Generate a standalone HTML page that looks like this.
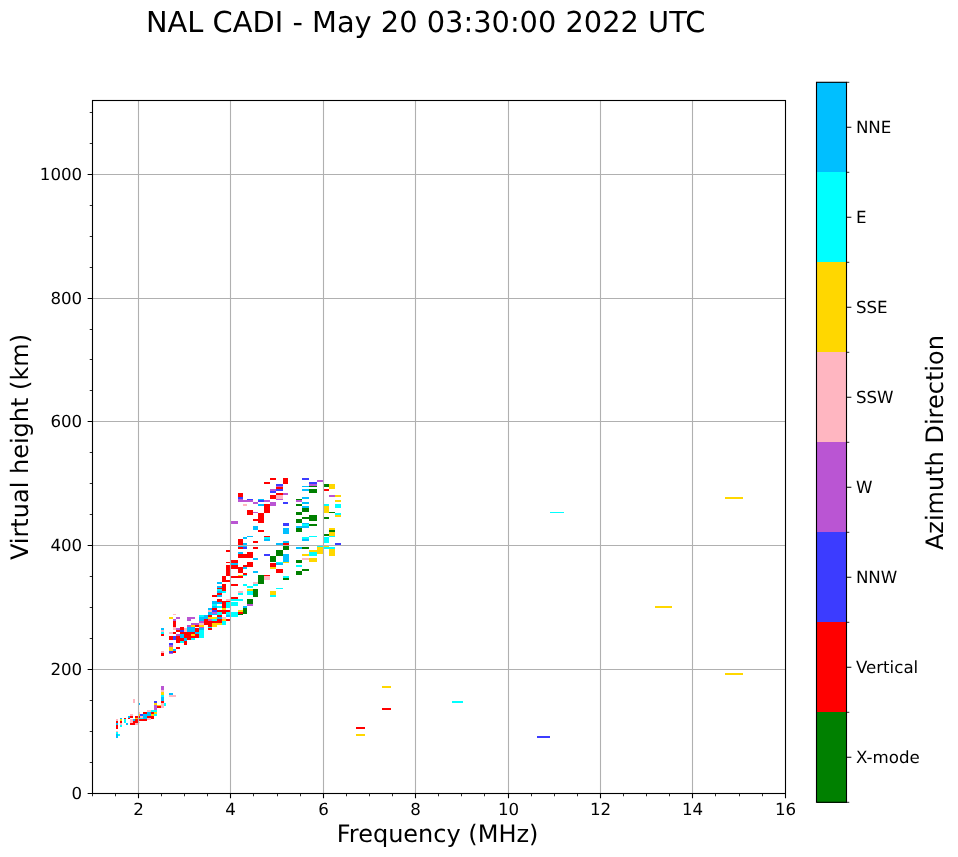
<!DOCTYPE html>
<html lang="en"><head><meta charset="utf-8"><title>NAL CADI ionogram</title>
<style>html,body{margin:0;padding:0;background:#fff}svg{display:block;will-change:transform}text{text-rendering:geometricPrecision;filter:grayscale(1)}</style></head>
<body>
<svg width="958" height="857" viewBox="0 0 958 857" font-family='"DejaVu Sans", "Liberation Sans", sans-serif' fill="#000">
<rect width="958" height="857" fill="#fff"/>
<g shape-rendering="crispEdges">
<rect x="115.97" y="718.90" width="2.10" height="2.01" fill="#ffb6c1"/>
<rect x="115.97" y="720.91" width="2.10" height="2.05" fill="#ff0000"/>
<rect x="115.97" y="722.96" width="2.10" height="2.01" fill="#00bfff"/>
<rect x="115.97" y="724.97" width="2.10" height="3.97" fill="#ff0000"/>
<rect x="115.97" y="730.90" width="2.10" height="1.07" fill="#ffb6c1"/>
<rect x="115.97" y="731.97" width="2.10" height="2.01" fill="#00ffff"/>
<rect x="115.97" y="733.98" width="2.10" height="3.92" fill="#00bfff"/>
<rect x="118.07" y="733.98" width="1.96" height="1.96" fill="#00ffff"/>
<rect x="120.03" y="717.97" width="2.01" height="0.93" fill="#00bfff"/>
<rect x="120.03" y="718.90" width="2.01" height="2.01" fill="#ffd700"/>
<rect x="120.03" y="720.91" width="2.01" height="2.05" fill="#ff0000"/>
<rect x="120.03" y="722.96" width="2.01" height="2.01" fill="#ffb6c1"/>
<rect x="120.03" y="724.97" width="2.01" height="2.01" fill="#00ffff"/>
<rect x="124.04" y="717.97" width="1.96" height="0.93" fill="#ff0000"/>
<rect x="124.04" y="718.90" width="1.96" height="4.06" fill="#00ffff"/>
<rect x="126.00" y="722.96" width="2.10" height="2.01" fill="#00bfff"/>
<rect x="128.10" y="715.96" width="2.01" height="2.01" fill="#00bfff"/>
<rect x="128.10" y="717.97" width="2.01" height="0.93" fill="#ff0000"/>
<rect x="130.11" y="714.00" width="2.89" height="1.96" fill="#ffb6c1"/>
<rect x="130.11" y="715.96" width="2.89" height="2.01" fill="#ff0000"/>
<rect x="130.11" y="718.90" width="2.89" height="4.06" fill="#ffb6c1"/>
<rect x="130.11" y="722.96" width="4.85" height="2.01" fill="#ff0000"/>
<rect x="133.00" y="718.90" width="1.96" height="2.01" fill="#00bfff"/>
<rect x="133.00" y="720.91" width="1.96" height="2.05" fill="#ff0000"/>
<rect x="134.96" y="715.96" width="2.94" height="2.01" fill="#ff0000"/>
<rect x="134.96" y="717.97" width="2.94" height="0.93" fill="#ffd700"/>
<rect x="134.96" y="718.90" width="2.94" height="4.06" fill="#ff0000"/>
<rect x="134.96" y="722.96" width="2.94" height="2.01" fill="#ffb6c1"/>
<rect x="133.24" y="700.00" width="1.73" height="2.71" fill="#ffb6c1"/>
<rect x="138.98" y="702.89" width="1.03" height="2.01" fill="#00bfff"/>
<rect x="138.98" y="712.04" width="1.03" height="1.96" fill="#ffb6c1"/>
<rect x="138.98" y="714.00" width="1.03" height="1.96" fill="#ffd700"/>
<rect x="138.98" y="715.96" width="1.03" height="2.01" fill="#ff0000"/>
<rect x="140.00" y="714.00" width="3.03" height="1.96" fill="#3c3cff"/>
<rect x="140.00" y="715.96" width="3.03" height="2.01" fill="#ffb6c1"/>
<rect x="138.98" y="717.97" width="4.06" height="0.93" fill="#00ffff"/>
<rect x="138.98" y="718.90" width="8.03" height="2.01" fill="#ff0000"/>
<rect x="138.98" y="721.94" width="1.03" height="1.03" fill="#ffb6c1"/>
<rect x="161.00" y="685.97" width="3.03" height="4.06" fill="#ba55d3"/>
<rect x="161.00" y="690.04" width="3.03" height="2.01" fill="#ffb6c1"/>
<rect x="161.00" y="692.04" width="3.03" height="2.89" fill="#ffd700"/>
<rect x="161.00" y="694.94" width="3.03" height="2.10" fill="#00ffff"/>
<rect x="161.00" y="697.04" width="3.03" height="3.97" fill="#00bfff"/>
<rect x="161.00" y="701.00" width="3.03" height="1.96" fill="#ff0000"/>
<rect x="161.00" y="702.96" width="3.03" height="4.95" fill="#ffb6c1"/>
<rect x="164.04" y="702.96" width="2.01" height="2.94" fill="#00ffff"/>
<rect x="168.94" y="692.98" width="4.11" height="1.96" fill="#00bfff"/>
<rect x="168.94" y="694.94" width="7.00" height="1.96" fill="#ffb6c1"/>
<rect x="154.00" y="701.00" width="3.03" height="1.96" fill="#3c3cff"/>
<rect x="154.00" y="702.96" width="3.03" height="2.01" fill="#ffd700"/>
<rect x="154.00" y="704.97" width="3.03" height="4.90" fill="#ba55d3"/>
<rect x="157.04" y="704.97" width="3.97" height="0.93" fill="#ffd700"/>
<rect x="157.04" y="705.90" width="3.97" height="2.01" fill="#ff0000"/>
<rect x="147.00" y="709.87" width="3.97" height="1.96" fill="#ffb6c1"/>
<rect x="150.97" y="709.87" width="6.07" height="1.96" fill="#00ffff"/>
<rect x="143.03" y="711.83" width="3.97" height="2.01" fill="#ff0000"/>
<rect x="147.00" y="711.83" width="3.97" height="4.11" fill="#00bfff"/>
<rect x="150.97" y="711.83" width="3.03" height="2.01" fill="#ff0000"/>
<rect x="154.00" y="711.83" width="3.03" height="2.01" fill="#ffd700"/>
<rect x="140.00" y="714.07" width="3.03" height="1.87" fill="#3c3cff"/>
<rect x="143.03" y="713.84" width="3.97" height="5.13" fill="#00bfff"/>
<rect x="150.97" y="713.84" width="3.03" height="2.10" fill="#ffd700"/>
<rect x="154.00" y="713.84" width="3.03" height="2.10" fill="#00ffff"/>
<rect x="140.00" y="715.94" width="3.03" height="1.96" fill="#ffb6c1"/>
<rect x="147.00" y="715.94" width="7.00" height="1.96" fill="#ff0000"/>
<rect x="150.97" y="715.94" width="3.03" height="3.03" fill="#ff0000"/>
<rect x="140.00" y="717.90" width="3.03" height="1.07" fill="#00ffff"/>
<rect x="140.00" y="718.97" width="7.00" height="2.01" fill="#ff0000"/>
<rect x="147.00" y="717.90" width="3.97" height="2.10" fill="#ffb6c1"/>
<rect x="160.99" y="628.05" width="3.02" height="2.02" fill="#00bfff"/>
<rect x="160.99" y="630.07" width="3.02" height="1.89" fill="#ffb6c1"/>
<rect x="160.99" y="631.96" width="3.02" height="2.08" fill="#00ffff"/>
<rect x="160.99" y="634.04" width="3.02" height="2.02" fill="#ff0000"/>
<rect x="160.99" y="651.05" width="3.02" height="1.89" fill="#ffb6c1"/>
<rect x="160.99" y="652.94" width="3.02" height="3.15" fill="#ff0000"/>
<rect x="172.96" y="613.88" width="3.02" height="0.95" fill="#ffb6c1"/>
<rect x="168.99" y="617.03" width="3.97" height="1.89" fill="#ffd700"/>
<rect x="175.98" y="617.03" width="4.03" height="1.89" fill="#ba55d3"/>
<rect x="172.96" y="618.92" width="3.02" height="2.02" fill="#ba55d3"/>
<rect x="172.96" y="620.93" width="3.02" height="6.05" fill="#ff0000"/>
<rect x="172.96" y="626.98" width="3.02" height="2.96" fill="#ffb6c1"/>
<rect x="187.01" y="617.03" width="8.00" height="1.89" fill="#ba55d3"/>
<rect x="187.01" y="618.92" width="4.03" height="2.02" fill="#ba55d3"/>
<rect x="191.04" y="623.01" width="7.88" height="1.89" fill="#ba55d3"/>
<rect x="187.01" y="624.90" width="4.03" height="2.08" fill="#ba55d3"/>
<rect x="191.04" y="624.90" width="3.97" height="2.08" fill="#ffd700"/>
<rect x="195.01" y="624.90" width="3.91" height="2.08" fill="#ff0000"/>
<rect x="175.98" y="628.05" width="4.03" height="1.89" fill="#ba55d3"/>
<rect x="180.02" y="626.98" width="3.97" height="2.96" fill="#ff0000"/>
<rect x="175.98" y="629.94" width="4.03" height="1.89" fill="#ff0000"/>
<rect x="180.02" y="629.94" width="3.97" height="2.02" fill="#3c3cff"/>
<rect x="183.99" y="628.05" width="3.02" height="3.91" fill="#ffb6c1"/>
<rect x="187.01" y="626.98" width="8.00" height="4.98" fill="#00bfff"/>
<rect x="195.01" y="628.05" width="3.91" height="3.91" fill="#ff0000"/>
<rect x="168.99" y="631.96" width="3.97" height="2.08" fill="#ffb6c1"/>
<rect x="172.96" y="631.96" width="3.02" height="2.08" fill="#ff0000"/>
<rect x="180.02" y="631.96" width="15.00" height="2.08" fill="#ff0000"/>
<rect x="183.99" y="634.04" width="7.06" height="4.10" fill="#ff0000"/>
<rect x="187.01" y="638.14" width="4.03" height="1.89" fill="#ff0000"/>
<rect x="175.98" y="635.93" width="4.03" height="6.93" fill="#ff0000"/>
<rect x="180.02" y="638.14" width="3.97" height="2.84" fill="#ff0000"/>
<rect x="183.99" y="640.97" width="3.02" height="3.91" fill="#ff0000"/>
<rect x="168.99" y="636.06" width="3.97" height="3.97" fill="#ff0000"/>
<rect x="195.01" y="634.04" width="3.91" height="3.78" fill="#ff0000"/>
<rect x="191.04" y="635.93" width="3.97" height="2.21" fill="#ff0000"/>
<rect x="175.98" y="634.04" width="4.03" height="1.89" fill="#ba55d3"/>
<rect x="180.02" y="634.04" width="3.97" height="4.10" fill="#00bfff"/>
<rect x="191.04" y="634.04" width="3.97" height="1.89" fill="#ffd700"/>
<rect x="195.01" y="631.96" width="3.91" height="2.08" fill="#00bfff"/>
<rect x="172.96" y="636.06" width="3.02" height="3.97" fill="#3c3cff"/>
<rect x="183.99" y="638.14" width="3.02" height="2.84" fill="#00bfff"/>
<rect x="191.04" y="638.14" width="3.97" height="1.89" fill="#00ffff"/>
<rect x="180.02" y="640.97" width="3.97" height="1.89" fill="#00ffff"/>
<rect x="198.92" y="629.94" width="5.04" height="7.88" fill="#00ffff"/>
<rect x="198.92" y="628.05" width="5.04" height="1.89" fill="#00bfff"/>
<rect x="198.92" y="626.98" width="5.04" height="1.07" fill="#ba55d3"/>
<rect x="198.92" y="624.90" width="5.04" height="2.08" fill="#ffd700"/>
<rect x="198.92" y="623.01" width="5.04" height="1.89" fill="#ffb6c1"/>
<rect x="198.92" y="620.93" width="5.04" height="2.08" fill="#ba55d3"/>
<rect x="198.92" y="617.03" width="5.04" height="3.91" fill="#00bfff"/>
<rect x="198.92" y="615.01" width="5.04" height="2.02" fill="#00ffff"/>
<rect x="203.96" y="615.01" width="3.97" height="3.91" fill="#00bfff"/>
<rect x="203.96" y="618.92" width="3.97" height="5.99" fill="#ff0000"/>
<rect x="207.93" y="607.89" width="4.10" height="1.89" fill="#00bfff"/>
<rect x="207.93" y="609.78" width="4.10" height="2.21" fill="#ffb6c1"/>
<rect x="207.93" y="611.99" width="4.10" height="3.02" fill="#00bfff"/>
<rect x="207.93" y="615.01" width="4.10" height="2.02" fill="#ff0000"/>
<rect x="207.93" y="617.03" width="7.06" height="1.89" fill="#ffd700"/>
<rect x="207.93" y="618.92" width="4.10" height="2.02" fill="#ba55d3"/>
<rect x="212.03" y="618.92" width="2.96" height="2.02" fill="#00ffff"/>
<rect x="207.93" y="620.93" width="4.10" height="6.05" fill="#ff0000"/>
<rect x="212.03" y="620.93" width="2.96" height="2.08" fill="#ff0000"/>
<rect x="212.03" y="623.01" width="2.96" height="3.97" fill="#ffd700"/>
<rect x="207.93" y="626.98" width="4.10" height="1.07" fill="#00ffff"/>
<rect x="207.93" y="628.05" width="4.10" height="1.89" fill="#ff0000"/>
<rect x="212.03" y="606.00" width="2.96" height="1.89" fill="#00bfff"/>
<rect x="212.03" y="607.89" width="2.96" height="1.89" fill="#ff0000"/>
<rect x="212.03" y="609.78" width="2.96" height="2.21" fill="#3c3cff"/>
<rect x="212.03" y="611.99" width="2.96" height="1.89" fill="#ba55d3"/>
<rect x="168.99" y="642.86" width="3.97" height="2.21" fill="#3c3cff"/>
<rect x="168.99" y="645.07" width="3.97" height="1.89" fill="#ba55d3"/>
<rect x="168.99" y="646.96" width="3.97" height="4.10" fill="#ffd700"/>
<rect x="168.99" y="651.05" width="3.97" height="1.89" fill="#3c3cff"/>
<rect x="168.99" y="652.94" width="3.97" height="1.07" fill="#ba55d3"/>
<rect x="172.96" y="649.16" width="3.02" height="1.89" fill="#00bfff"/>
<rect x="172.96" y="651.05" width="3.02" height="1.89" fill="#ff0000"/>
<rect x="175.98" y="646.96" width="4.03" height="2.21" fill="#ff0000"/>
<rect x="221.97" y="576.00" width="3.91" height="5.99" fill="#ff0000"/>
<rect x="225.88" y="579.91" width="4.16" height="2.08" fill="#ff0000"/>
<rect x="231.11" y="576.00" width="11.85" height="1.76" fill="#ff0000"/>
<rect x="217.06" y="581.99" width="4.92" height="1.89" fill="#00bfff"/>
<rect x="221.97" y="584.07" width="3.91" height="6.87" fill="#ff0000"/>
<rect x="231.11" y="584.07" width="6.93" height="1.89" fill="#ff0000"/>
<rect x="242.96" y="584.07" width="4.03" height="1.89" fill="#00ffff"/>
<rect x="247.00" y="585.96" width="6.05" height="2.02" fill="#00ffff"/>
<rect x="253.05" y="584.07" width="4.98" height="1.89" fill="#00ffff"/>
<rect x="253.05" y="581.99" width="4.98" height="1.89" fill="#ffb6c1"/>
<rect x="258.02" y="576.00" width="5.99" height="7.88" fill="#008000"/>
<rect x="264.01" y="576.00" width="5.99" height="3.78" fill="#ffb6c1"/>
<rect x="217.06" y="585.96" width="4.92" height="2.02" fill="#00bfff"/>
<rect x="217.06" y="587.97" width="4.92" height="0.95" fill="#ff0000"/>
<rect x="217.06" y="588.92" width="4.92" height="2.21" fill="#00ffff"/>
<rect x="217.06" y="591.13" width="4.92" height="1.89" fill="#00bfff"/>
<rect x="221.97" y="591.13" width="3.91" height="1.89" fill="#00ffff"/>
<rect x="217.06" y="593.02" width="4.92" height="1.89" fill="#ff0000"/>
<rect x="212.02" y="594.91" width="5.04" height="2.02" fill="#ff0000"/>
<rect x="217.06" y="594.91" width="4.92" height="2.02" fill="#00bfff"/>
<rect x="238.05" y="591.13" width="4.92" height="1.76" fill="#ffb6c1"/>
<rect x="238.05" y="592.89" width="4.92" height="2.02" fill="#00ffff"/>
<rect x="247.00" y="589.05" width="6.05" height="1.89" fill="#ffd700"/>
<rect x="247.00" y="590.94" width="6.05" height="3.97" fill="#00ffff"/>
<rect x="253.05" y="589.05" width="4.98" height="7.88" fill="#008000"/>
<rect x="231.11" y="597.11" width="6.93" height="1.70" fill="#ff0000"/>
<rect x="231.11" y="599.00" width="11.85" height="1.89" fill="#00ffff"/>
<rect x="226.07" y="599.00" width="3.97" height="1.89" fill="#ffb6c1"/>
<rect x="217.06" y="599.00" width="4.92" height="2.96" fill="#ff0000"/>
<rect x="247.00" y="599.00" width="6.05" height="5.04" fill="#008000"/>
<rect x="247.00" y="604.05" width="6.05" height="1.89" fill="#ba55d3"/>
<rect x="212.02" y="601.02" width="5.04" height="3.03" fill="#00bfff"/>
<rect x="217.06" y="601.97" width="4.92" height="2.08" fill="#00bfff"/>
<rect x="221.97" y="601.02" width="3.91" height="6.93" fill="#ff0000"/>
<rect x="225.88" y="601.02" width="4.16" height="0.95" fill="#ff0000"/>
<rect x="225.88" y="601.97" width="4.16" height="5.99" fill="#00ffff"/>
<rect x="231.11" y="601.97" width="6.93" height="3.97" fill="#00ffff"/>
<rect x="212.02" y="604.05" width="5.04" height="2.02" fill="#00ffff"/>
<rect x="212.02" y="606.06" width="5.04" height="1.89" fill="#00bfff"/>
<rect x="217.06" y="606.06" width="4.92" height="1.89" fill="#00ffff"/>
<rect x="242.96" y="606.06" width="4.03" height="1.89" fill="#00bfff"/>
<rect x="242.96" y="607.95" width="4.03" height="6.05" fill="#008000"/>
<rect x="210.00" y="607.95" width="2.02" height="2.08" fill="#00bfff"/>
<rect x="212.02" y="607.95" width="5.04" height="2.08" fill="#ff0000"/>
<rect x="221.97" y="607.95" width="3.91" height="2.08" fill="#ffd700"/>
<rect x="210.00" y="610.03" width="2.02" height="1.89" fill="#ffb6c1"/>
<rect x="212.02" y="610.03" width="5.04" height="1.89" fill="#3c3cff"/>
<rect x="217.06" y="610.03" width="12.98" height="1.89" fill="#ff0000"/>
<rect x="238.05" y="610.03" width="4.92" height="1.89" fill="#ffd700"/>
<rect x="238.05" y="611.92" width="4.92" height="1.89" fill="#ff0000"/>
<rect x="238.05" y="613.81" width="4.92" height="1.07" fill="#008000"/>
<rect x="210.00" y="611.92" width="2.02" height="2.96" fill="#00bfff"/>
<rect x="212.02" y="611.92" width="5.04" height="1.89" fill="#ba55d3"/>
<rect x="217.06" y="611.92" width="4.92" height="2.96" fill="#00ffff"/>
<rect x="221.97" y="611.92" width="3.91" height="1.89" fill="#ff0000"/>
<rect x="225.88" y="611.92" width="4.16" height="2.96" fill="#00ffff"/>
<rect x="231.11" y="611.92" width="6.93" height="5.04" fill="#00ffff"/>
<rect x="212.02" y="613.81" width="5.04" height="1.07" fill="#00bfff"/>
<rect x="210.00" y="615.07" width="2.02" height="1.89" fill="#ff0000"/>
<rect x="217.06" y="615.07" width="4.92" height="1.89" fill="#ff0000"/>
<rect x="225.88" y="615.07" width="4.16" height="1.89" fill="#00bfff"/>
<rect x="210.00" y="616.97" width="7.06" height="1.89" fill="#ffd700"/>
<rect x="217.06" y="616.97" width="4.92" height="1.89" fill="#00bfff"/>
<rect x="221.97" y="616.97" width="3.91" height="1.89" fill="#ffb6c1"/>
<rect x="210.00" y="618.86" width="2.02" height="2.02" fill="#ba55d3"/>
<rect x="212.02" y="618.86" width="5.04" height="2.02" fill="#00ffff"/>
<rect x="217.06" y="618.86" width="4.92" height="4.10" fill="#ff0000"/>
<rect x="221.97" y="618.86" width="3.91" height="2.02" fill="#ffd700"/>
<rect x="225.88" y="618.86" width="4.16" height="2.02" fill="#ff0000"/>
<rect x="210.00" y="620.87" width="7.06" height="2.08" fill="#ff0000"/>
<rect x="210.00" y="622.95" width="2.02" height="4.10" fill="#ff0000"/>
<rect x="221.97" y="620.87" width="3.91" height="4.10" fill="#00ffff"/>
<rect x="212.02" y="622.95" width="9.96" height="2.02" fill="#ffd700"/>
<rect x="212.02" y="624.97" width="5.04" height="2.08" fill="#ffd700"/>
<rect x="210.00" y="627.05" width="2.02" height="0.95" fill="#00ffff"/>
<rect x="210.00" y="627.99" width="2.02" height="2.02" fill="#ff0000"/>
<rect x="253.00" y="526.02" width="5.04" height="3.97" fill="#00bfff"/>
<rect x="258.05" y="529.99" width="5.92" height="2.02" fill="#ff0000"/>
<rect x="247.14" y="535.97" width="5.86" height="1.07" fill="#00bfff"/>
<rect x="243.05" y="537.05" width="4.10" height="1.89" fill="#00bfff"/>
<rect x="238.00" y="538.94" width="5.04" height="6.05" fill="#ff0000"/>
<rect x="243.05" y="543.10" width="4.10" height="1.89" fill="#00bfff"/>
<rect x="263.97" y="535.97" width="6.05" height="1.07" fill="#ff0000"/>
<rect x="263.97" y="537.05" width="6.05" height="2.08" fill="#00ffff"/>
<rect x="263.97" y="539.13" width="6.05" height="1.89" fill="#00bfff"/>
<rect x="253.00" y="541.02" width="5.04" height="1.89" fill="#ff0000"/>
<rect x="238.00" y="546.06" width="9.14" height="0.95" fill="#00bfff"/>
<rect x="238.00" y="547.00" width="5.04" height="1.89" fill="#ff0000"/>
<rect x="243.05" y="547.00" width="4.10" height="1.89" fill="#3c3cff"/>
<rect x="253.00" y="547.00" width="5.04" height="1.89" fill="#ff0000"/>
<rect x="226.03" y="549.97" width="4.10" height="1.95" fill="#ff0000"/>
<rect x="238.00" y="552.05" width="5.04" height="1.89" fill="#00bfff"/>
<rect x="247.14" y="552.05" width="5.86" height="5.99" fill="#ff0000"/>
<rect x="238.00" y="553.94" width="9.14" height="4.10" fill="#ff0000"/>
<rect x="263.97" y="554.06" width="6.05" height="1.89" fill="#3c3cff"/>
<rect x="270.02" y="556.14" width="4.98" height="5.67" fill="#008000"/>
<rect x="253.00" y="558.03" width="5.04" height="1.89" fill="#00bfff"/>
<rect x="231.07" y="560.05" width="6.93" height="2.84" fill="#ff0000"/>
<rect x="226.03" y="561.81" width="4.10" height="1.07" fill="#ff0000"/>
<rect x="231.07" y="563.07" width="6.93" height="1.89" fill="#00bfff"/>
<rect x="247.14" y="562.00" width="5.86" height="4.85" fill="#ff0000"/>
<rect x="243.05" y="564.97" width="4.10" height="1.89" fill="#ff0000"/>
<rect x="270.02" y="563.07" width="4.98" height="3.78" fill="#ff0000"/>
<rect x="270.02" y="566.86" width="4.98" height="2.02" fill="#ffd700"/>
<rect x="226.03" y="564.97" width="4.10" height="11.03" fill="#ff0000"/>
<rect x="231.07" y="564.97" width="6.93" height="3.91" fill="#ff0000"/>
<rect x="238.00" y="566.86" width="5.04" height="6.11" fill="#ff0000"/>
<rect x="243.05" y="566.98" width="4.10" height="1.89" fill="#00bfff"/>
<rect x="253.00" y="570.95" width="5.04" height="2.02" fill="#00bfff"/>
<rect x="243.05" y="572.97" width="4.10" height="1.89" fill="#ff0000"/>
<rect x="238.00" y="574.86" width="5.04" height="1.13" fill="#ffd700"/>
<rect x="243.05" y="574.86" width="4.10" height="1.13" fill="#00ffff"/>
<rect x="258.05" y="575.05" width="5.92" height="1.26" fill="#008000"/>
<rect x="263.97" y="574.86" width="6.05" height="1.13" fill="#ff0000"/>
<rect x="283.05" y="524.00" width="5.86" height="1.76" fill="#3c3cff"/>
<rect x="283.05" y="528.10" width="5.86" height="5.86" fill="#00bfff"/>
<rect x="302.14" y="524.00" width="6.93" height="2.02" fill="#00ffff"/>
<rect x="309.07" y="524.00" width="7.88" height="1.76" fill="#008000"/>
<rect x="296.03" y="526.02" width="13.05" height="1.89" fill="#00bfff"/>
<rect x="296.03" y="527.91" width="6.11" height="3.97" fill="#008000"/>
<rect x="309.07" y="535.97" width="7.88" height="1.07" fill="#00ffff"/>
<rect x="302.14" y="537.05" width="6.93" height="2.08" fill="#00ffff"/>
<rect x="302.14" y="539.13" width="6.93" height="1.89" fill="#00bfff"/>
<rect x="283.05" y="541.02" width="5.86" height="2.08" fill="#00bfff"/>
<rect x="275.99" y="543.10" width="7.06" height="1.89" fill="#00bfff"/>
<rect x="283.05" y="543.10" width="5.86" height="1.89" fill="#ff0000"/>
<rect x="283.05" y="546.06" width="5.86" height="3.91" fill="#008000"/>
<rect x="296.03" y="547.00" width="6.11" height="1.89" fill="#00bfff"/>
<rect x="302.14" y="547.00" width="6.93" height="1.89" fill="#008000"/>
<rect x="316.95" y="546.06" width="5.99" height="0.95" fill="#00ffff"/>
<rect x="316.95" y="547.00" width="5.99" height="6.93" fill="#ffd700"/>
<rect x="309.07" y="549.97" width="7.88" height="2.08" fill="#ffd700"/>
<rect x="309.07" y="552.05" width="7.88" height="3.91" fill="#00ffff"/>
<rect x="302.14" y="554.06" width="6.93" height="1.89" fill="#ffd700"/>
<rect x="275.99" y="549.97" width="7.06" height="5.99" fill="#008000"/>
<rect x="270.00" y="556.14" width="5.99" height="5.67" fill="#008000"/>
<rect x="283.05" y="554.06" width="5.86" height="7.75" fill="#00bfff"/>
<rect x="283.05" y="561.81" width="5.86" height="1.26" fill="#ffd700"/>
<rect x="275.99" y="561.81" width="7.06" height="1.26" fill="#00ffff"/>
<rect x="275.99" y="563.07" width="7.06" height="1.89" fill="#00bfff"/>
<rect x="270.00" y="563.07" width="5.99" height="3.78" fill="#ff0000"/>
<rect x="270.00" y="566.86" width="5.99" height="2.02" fill="#ffd700"/>
<rect x="275.99" y="568.87" width="7.06" height="4.10" fill="#ff0000"/>
<rect x="302.14" y="558.03" width="6.93" height="1.89" fill="#ffb6c1"/>
<rect x="309.07" y="558.03" width="7.88" height="3.97" fill="#ffd700"/>
<rect x="296.03" y="560.05" width="6.11" height="2.84" fill="#008000"/>
<rect x="296.03" y="564.97" width="6.11" height="2.02" fill="#00ffff"/>
<rect x="302.14" y="568.87" width="6.93" height="2.08" fill="#008000"/>
<rect x="296.03" y="570.95" width="6.11" height="3.91" fill="#008000"/>
<rect x="283.05" y="575.99" width="5.86" height="2.02" fill="#00ffff"/>
<rect x="282.99" y="577.91" width="6.11" height="2.08" fill="#008000"/>
<rect x="275.99" y="587.99" width="7.00" height="1.13" fill="#00ffff"/>
<rect x="270.00" y="591.02" width="5.99" height="3.97" fill="#ffd700"/>
<rect x="270.00" y="594.99" width="5.99" height="2.02" fill="#00ffff"/>
<rect x="270.04" y="477.99" width="5.99" height="1.89" fill="#ff0000"/>
<rect x="264.05" y="481.96" width="5.99" height="2.02" fill="#ff0000"/>
<rect x="283.02" y="477.99" width="4.98" height="5.99" fill="#ff0000"/>
<rect x="276.02" y="483.97" width="7.00" height="2.21" fill="#3c3cff"/>
<rect x="276.02" y="486.18" width="7.00" height="0.95" fill="#ba55d3"/>
<rect x="276.02" y="487.13" width="7.00" height="1.89" fill="#ff0000"/>
<rect x="276.02" y="489.02" width="7.00" height="2.08" fill="#3c3cff"/>
<rect x="270.04" y="489.02" width="5.99" height="2.08" fill="#ba55d3"/>
<rect x="270.04" y="491.10" width="5.99" height="1.89" fill="#3c3cff"/>
<rect x="276.02" y="493.11" width="7.00" height="1.89" fill="#ff0000"/>
<rect x="283.02" y="493.11" width="4.98" height="1.89" fill="#ba55d3"/>
<rect x="270.04" y="495.00" width="5.99" height="3.97" fill="#ff0000"/>
<rect x="276.02" y="495.00" width="7.00" height="3.97" fill="#ffb6c1"/>
<rect x="276.02" y="498.97" width="7.00" height="1.07" fill="#ba55d3"/>
<rect x="238.08" y="493.11" width="4.92" height="3.91" fill="#ff0000"/>
<rect x="238.08" y="497.02" width="4.92" height="1.95" fill="#3c3cff"/>
<rect x="238.08" y="498.97" width="4.92" height="2.96" fill="#ba55d3"/>
<rect x="243.00" y="500.05" width="10.02" height="1.89" fill="#ba55d3"/>
<rect x="247.10" y="498.97" width="5.92" height="1.07" fill="#3c3cff"/>
<rect x="258.06" y="498.97" width="5.99" height="1.07" fill="#00bfff"/>
<rect x="258.06" y="500.05" width="5.99" height="1.89" fill="#3c3cff"/>
<rect x="264.05" y="500.05" width="5.99" height="1.89" fill="#ba55d3"/>
<rect x="253.02" y="502.06" width="5.04" height="1.89" fill="#ba55d3"/>
<rect x="243.00" y="503.95" width="4.10" height="2.08" fill="#ffb6c1"/>
<rect x="258.06" y="503.95" width="5.99" height="2.08" fill="#00bfff"/>
<rect x="270.04" y="502.06" width="5.99" height="3.97" fill="#ba55d3"/>
<rect x="283.02" y="502.06" width="4.98" height="1.89" fill="#3c3cff"/>
<rect x="264.05" y="503.95" width="5.99" height="9.01" fill="#ff0000"/>
<rect x="247.10" y="510.00" width="5.92" height="4.98" fill="#ff0000"/>
<rect x="253.02" y="512.02" width="5.04" height="0.95" fill="#ba55d3"/>
<rect x="258.06" y="512.97" width="5.99" height="9.89" fill="#ff0000"/>
<rect x="253.02" y="518.95" width="5.04" height="2.02" fill="#ff0000"/>
<rect x="230.84" y="520.97" width="7.25" height="3.03" fill="#ba55d3"/>
<rect x="283.02" y="523.05" width="5.86" height="1.26" fill="#3c3cff"/>
<rect x="302.02" y="477.99" width="7.06" height="1.89" fill="#3c3cff"/>
<rect x="317.14" y="480.07" width="5.86" height="1.89" fill="#ba55d3"/>
<rect x="309.08" y="481.96" width="8.07" height="2.02" fill="#3c3cff"/>
<rect x="309.08" y="483.97" width="8.07" height="2.02" fill="#ba55d3"/>
<rect x="309.08" y="485.99" width="8.07" height="0.95" fill="#008000"/>
<rect x="302.02" y="485.99" width="7.06" height="0.95" fill="#00bfff"/>
<rect x="302.02" y="489.02" width="7.06" height="1.89" fill="#00bfff"/>
<rect x="309.08" y="489.02" width="8.07" height="3.97" fill="#008000"/>
<rect x="302.02" y="497.02" width="7.06" height="1.95" fill="#00bfff"/>
<rect x="296.03" y="498.97" width="5.99" height="1.07" fill="#008000"/>
<rect x="296.03" y="500.05" width="5.99" height="1.89" fill="#ba55d3"/>
<rect x="302.02" y="502.06" width="7.06" height="1.89" fill="#00bfff"/>
<rect x="296.03" y="503.95" width="5.99" height="2.08" fill="#008000"/>
<rect x="302.02" y="506.03" width="7.06" height="2.02" fill="#00bfff"/>
<rect x="302.02" y="508.05" width="7.06" height="3.97" fill="#008000"/>
<rect x="296.03" y="512.02" width="5.99" height="2.96" fill="#008000"/>
<rect x="309.08" y="514.98" width="8.07" height="5.99" fill="#008000"/>
<rect x="302.02" y="517.06" width="7.06" height="1.89" fill="#008000"/>
<rect x="296.03" y="518.95" width="5.99" height="3.91" fill="#008000"/>
<rect x="302.02" y="522.86" width="7.06" height="1.13" fill="#00bfff"/>
<rect x="324.07" y="483.97" width="4.92" height="2.96" fill="#008000"/>
<rect x="328.99" y="483.97" width="6.11" height="5.04" fill="#ffd700"/>
<rect x="324.07" y="489.02" width="4.92" height="1.89" fill="#ff0000"/>
<rect x="328.99" y="495.00" width="6.11" height="2.02" fill="#ba55d3"/>
<rect x="335.10" y="495.00" width="5.99" height="2.02" fill="#ffd700"/>
<rect x="335.10" y="500.05" width="5.99" height="1.89" fill="#ffd700"/>
<rect x="324.07" y="503.95" width="4.92" height="2.08" fill="#00ffff"/>
<rect x="324.07" y="506.03" width="4.92" height="6.93" fill="#ffd700"/>
<rect x="335.10" y="503.95" width="5.99" height="4.10" fill="#00ffff"/>
<rect x="328.99" y="512.02" width="6.11" height="0.95" fill="#008000"/>
<rect x="335.10" y="512.97" width="5.99" height="2.02" fill="#00ffff"/>
<rect x="335.10" y="514.98" width="5.99" height="1.89" fill="#ffd700"/>
<rect x="324.07" y="516.87" width="4.92" height="2.08" fill="#008000"/>
<rect x="329.10" y="527.96" width="5.92" height="2.02" fill="#ffd700"/>
<rect x="329.10" y="529.97" width="5.92" height="2.02" fill="#008000"/>
<rect x="329.10" y="531.99" width="5.92" height="3.97" fill="#ffd700"/>
<rect x="329.10" y="535.96" width="5.92" height="0.95" fill="#00ffff"/>
<rect x="323.99" y="534.07" width="5.10" height="1.89" fill="#008000"/>
<rect x="323.99" y="537.10" width="5.10" height="5.92" fill="#00ffff"/>
<rect x="335.02" y="543.02" width="5.99" height="1.95" fill="#3c3cff"/>
<rect x="323.99" y="546.05" width="5.10" height="0.95" fill="#ffd700"/>
<rect x="323.99" y="546.99" width="11.03" height="2.02" fill="#00ffff"/>
<rect x="329.10" y="549.01" width="5.92" height="7.00" fill="#ffd700"/>
<rect x="133.20" y="699.00" width="1.80" height="3.70" fill="#ffb6c1"/>
<rect x="382.00" y="686.00" width="9.00" height="2.00" fill="#ffd700"/>
<rect x="382.00" y="708.00" width="9.00" height="2.00" fill="#ff0000"/>
<rect x="356.00" y="727.00" width="9.00" height="2.00" fill="#ff0000"/>
<rect x="356.00" y="734.00" width="9.00" height="2.00" fill="#ffd700"/>
<rect x="452.00" y="701.00" width="11.00" height="2.00" fill="#00ffff"/>
<rect x="537.00" y="736.00" width="13.00" height="2.00" fill="#3c3cff"/>
<rect x="550.00" y="512.00" width="14.00" height="1.00" fill="#00ffff"/>
<rect x="725.00" y="497.00" width="18.00" height="2.00" fill="#ffd700"/>
<rect x="655.00" y="606.00" width="17.00" height="2.00" fill="#ffd700"/>
<rect x="725.00" y="673.00" width="18.00" height="2.00" fill="#ffd700"/>
</g>
<path d="M138.50 100.5V793.5M230.50 100.5V793.5M323.50 100.5V793.5M415.50 100.5V793.5M508.50 100.5V793.5M600.50 100.5V793.5M692.50 100.5V793.5M92.5 669.50H785.5M92.5 545.50H785.5M92.5 421.50H785.5M92.5 298.50H785.5M92.5 174.50H785.5" stroke="#b0b0b0" stroke-width="1.11" fill="none"/>
<path d="M138.50 793.5v4.86M230.50 793.5v4.86M323.50 793.5v4.86M415.50 793.5v4.86M508.50 793.5v4.86M600.50 793.5v4.86M692.50 793.5v4.86M785.50 793.5v4.86M92.5 793.50h-4.86M92.5 669.50h-4.86M92.5 545.50h-4.86M92.5 421.50h-4.86M92.5 298.50h-4.86M92.5 174.50h-4.86" stroke="#000" stroke-width="1.11" fill="none"/>
<path d="M92.50 793.5v2.78M115.50 793.5v2.78M161.50 793.5v2.78M184.50 793.5v2.78M207.50 793.5v2.78M253.50 793.5v2.78M277.50 793.5v2.78M300.50 793.5v2.78M346.50 793.5v2.78M369.50 793.5v2.78M392.50 793.5v2.78M438.50 793.5v2.78M461.50 793.5v2.78M484.50 793.5v2.78M531.50 793.5v2.78M554.50 793.5v2.78M577.50 793.5v2.78M623.50 793.5v2.78M646.50 793.5v2.78M669.50 793.5v2.78M715.50 793.5v2.78M739.50 793.5v2.78M762.50 793.5v2.78M92.5 762.50h-2.78M92.5 731.50h-2.78M92.5 700.50h-2.78M92.5 638.50h-2.78M92.5 607.50h-2.78M92.5 576.50h-2.78M92.5 514.50h-2.78M92.5 483.50h-2.78M92.5 452.50h-2.78M92.5 390.50h-2.78M92.5 359.50h-2.78M92.5 329.50h-2.78M92.5 267.50h-2.78M92.5 236.50h-2.78M92.5 205.50h-2.78M92.5 143.50h-2.78M92.5 112.50h-2.78" stroke="#000" stroke-width="0.83" fill="none"/>
<rect x="92.5" y="100.5" width="693.0" height="693.0" fill="none" stroke="#000" stroke-width="1.11"/>
<g font-size="16.67px">
<text x="138.50" y="815" text-anchor="middle">2</text>
<text x="230.50" y="815" text-anchor="middle">4</text>
<text x="323.50" y="815" text-anchor="middle">6</text>
<text x="415.50" y="815" text-anchor="middle">8</text>
<text x="508.50" y="815" text-anchor="middle">10</text>
<text x="600.50" y="815" text-anchor="middle">12</text>
<text x="692.50" y="815" text-anchor="middle">14</text>
<text x="785.50" y="815" text-anchor="middle">16</text>
<text x="82.2" y="799.00" text-anchor="end">0</text>
<text x="82.2" y="675.00" text-anchor="end">200</text>
<text x="82.2" y="551.00" text-anchor="end">400</text>
<text x="82.2" y="427.00" text-anchor="end">600</text>
<text x="82.2" y="304.00" text-anchor="end">800</text>
<text x="82.2" y="180.00" text-anchor="end">1000</text>
</g>
<text x="437.6" y="842" font-size="24px" text-anchor="middle">Frequency (MHz)</text>
<text transform="translate(27.7 447) rotate(-90)" font-size="24px" text-anchor="middle">Virtual height (km)</text>
<text x="705.35" y="32" font-size="28.86px" text-anchor="end">NAL CADI - May 20 03:30:00 2022 UTC</text>
<g shape-rendering="crispEdges">
<rect x="816.5" y="82.30" width="30.0" height="90.5" fill="#00bfff"/>
<rect x="816.5" y="172.30" width="30.0" height="90.5" fill="#00ffff"/>
<rect x="816.5" y="262.30" width="30.0" height="90.5" fill="#ffd700"/>
<rect x="816.5" y="352.30" width="30.0" height="90.5" fill="#ffb6c1"/>
<rect x="816.5" y="442.30" width="30.0" height="90.5" fill="#ba55d3"/>
<rect x="816.5" y="532.30" width="30.0" height="90.5" fill="#3c3cff"/>
<rect x="816.5" y="622.30" width="30.0" height="90.5" fill="#ff0000"/>
<rect x="816.5" y="712.30" width="30.0" height="90.5" fill="#008000"/>
</g>
<rect x="816.5" y="82.3" width="30.0" height="720" fill="none" stroke="#000" stroke-width="1.11"/>
<path d="M846.5 127.30h4.86M846.5 217.30h4.86M846.5 307.30h4.86M846.5 397.30h4.86M846.5 487.30h4.86M846.5 577.30h4.86M846.5 667.30h4.86M846.5 757.30h4.86" stroke="#000" stroke-width="1.11" fill="none"/>
<path d="M846.5 82.30h2.78M846.5 172.30h2.78M846.5 262.30h2.78M846.5 352.30h2.78M846.5 442.30h2.78M846.5 532.30h2.78M846.5 622.30h2.78M846.5 712.30h2.78M846.5 802.30h2.78" stroke="#000" stroke-width="0.83" fill="none"/>
<g font-size="16.67px">
<text x="855.9" y="133.00">NNE</text>
<text x="855.9" y="223.00">E</text>
<text x="855.9" y="313.00">SSE</text>
<text x="855.9" y="403.00">SSW</text>
<text x="855.9" y="493.00">W</text>
<text x="855.9" y="583.00">NNW</text>
<text x="855.9" y="673.00">Vertical</text>
<text x="855.9" y="763.00">X-mode</text>
</g>
<text transform="translate(942.7 442.6) rotate(-90)" font-size="24px" text-anchor="middle">Azimuth Direction</text>
</svg>
</body></html>
